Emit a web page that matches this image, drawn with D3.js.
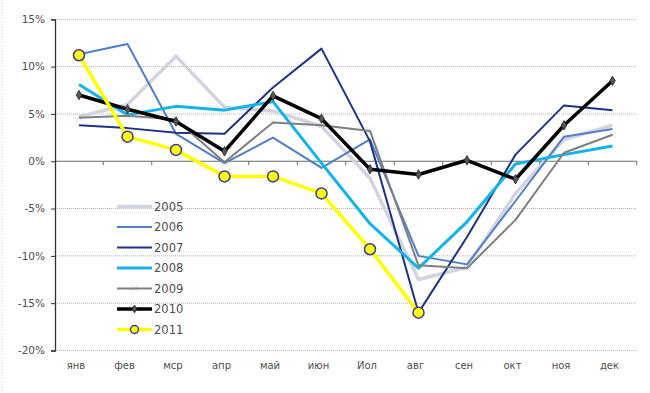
<!DOCTYPE html>
<html>
<head>
<meta charset="utf-8">
<script src="https://cdn.jsdelivr.net/npm/d3@7"></script>
<style>
body { margin: 0; background: #fff; }
text { font-family: "DejaVu Sans", sans-serif; fill: #4d4d4d; }
</style>
</head>
<body>
<div id="chart"></div>
<script>
// data
var months = ["янв", "фев", "мср", "апр", "май", "июн", "Иол", "авг", "сен", "окт", "ноя", "дек"];
var yTicks = [15, 10, 5, 0, -5, -10, -15, -20];
var years = ["2005", "2006", "2007", "2008", "2009", "2010", "2011"];
var v2005 = [4.7, 6.0, 11.1, 5.7, 5.3, 3.7, -1.8, -12.5, -11.2, -3.4, 2.3, 3.8];
var v2006 = [11.3, 12.4, 2.9, -0.2, 2.5, -0.7, 2.3, -10.0, -10.9, -4.2, 2.6, 3.4];
var v2007 = [3.8, 3.5, 3.0, 2.9, 7.8, 11.9, 2.1, -16.0, -8.0, 0.7, 5.9, 5.4];
var v2008 = [8.1, 4.9, 5.8, 5.4, 6.3, -0.2, -6.6, -11.3, -6.4, -0.3, 0.7, 1.6];
var v2009 = [4.6, 4.8, 4.4, -0.1, 4.1, 3.8, 3.2, -11.0, -11.3, -6.2, 0.9, 2.8];
var v2010 = [7.0, 5.5, 4.2, 1.05, 6.9, 4.5, -0.85, -1.4, 0.1, -1.9, 3.8, 8.5];
var v2011 = [11.2, 2.6, 1.2, -1.6, -1.6, -3.4, -9.3, -16.0];

var series = [
    {name: "2005", values: v2005, color: "#d2d4e2", width: 3.5, marker: "none"},
    {name: "2006", values: v2006, color: "#4f7fc4", width: 2, marker: "none"},
    {name: "2007", values: v2007, color: "#1f3380", width: 2, marker: "none"},
    {name: "2008", values: v2008, color: "#14b4ea", width: 3, marker: "none"},
    {name: "2009", values: v2009, color: "#7f7f7f", width: 2, marker: "x"},
    {name: "2010", values: v2010, color: "#000000", width: 3.5, marker: "diamond"},
    {name: "2011", values: v2011, color: "#ffff00", width: 3.5, marker: "circle"}
];

var svg = d3.select("#chart").append("svg").attr("width", 650).attr("height", 393);

var x = d3.scaleBand().domain(months).range([54.75, 636.75]).paddingInner(0).paddingOuter(0);
var y = d3.scaleLinear().domain([-20, 15]).range([350.5, 19.3]);

// frame leftover on the left edge
svg.append("line").attr("x1", 2).attr("x2", 2).attr("y1", 0).attr("y2", 393)
    .attr("stroke", "#cfcfcf").attr("stroke-dasharray", "1,2");

// gridlines
svg.append("g").selectAll("line").data(yTicks.filter(function(d){ return d != 0; }))
    .enter().append("line")
    .attr("x1", 55).attr("x2", 637)
    .attr("y1", function(d){ return y(d); }).attr("y2", function(d){ return y(d); })
    .attr("stroke", "#b3b3b3").attr("stroke-dasharray", "1,1");

// zero axis with month ticks
var xAxis = svg.append("g").attr("transform", "translate(0," + y(0) + ")");
xAxis.append("line").attr("x1", 55).attr("x2", 637).attr("stroke", "#6a6a6a").attr("stroke-width", 1.2);
xAxis.selectAll(".tk").data(months).enter().append("line").attr("class", "tk")
    .attr("x1", function(d){ return x(d) + x.bandwidth(); })
    .attr("x2", function(d){ return x(d) + x.bandwidth(); })
    .attr("y1", 0).attr("y2", 4).attr("stroke", "#6a6a6a");

svg.append("g").selectAll("text").data(months).enter().append("text")
    .attr("x", function(d){ return x(d) + x.bandwidth() / 2 - 3; })
    .attr("y", 369)
    .attr("text-anchor", "middle").attr("font-size", 10)
    .text(function(d){ return d; });

// y axis
var yAxis = svg.append("g").attr("transform", "translate(55,0)")
    .call(d3.axisLeft(y).tickValues(yTicks).tickSize(4).tickPadding(6)
        .tickFormat(function(d){ return d + "%"; }));
yAxis.select(".domain").attr("stroke", "#333").attr("stroke-width", 1.3);
yAxis.selectAll(".tick line").attr("stroke", "#333");
yAxis.selectAll(".tick text").attr("font-size", 10.5).attr("font-family", "DejaVu Sans").attr("fill", "#4d4d4d");

// lines
var line = d3.line()
    .x(function(d, i){ return x(months[i]) + x.bandwidth() / 2; })
    .y(function(d){ return y(d); });

function drawMarker(g, kind, cx, cy, small) {
    if (kind == "circle") {
        g.append("circle").attr("cx", cx).attr("cy", cy).attr("r", small ? 4 : 5.5)
            .attr("fill", "#ffff00").attr("stroke", "#3a3a96").attr("stroke-width", 1.5);
    } else if (kind == "diamond") {
        g.append("path").attr("d", d3.symbol().type(d3.symbolDiamond).size(small ? 18 : 26)())
            .attr("transform", "translate(" + cx + "," + cy + ")")
            .attr("fill", "#555").attr("stroke", "#222").attr("stroke-width", 0.8);
    } else if (kind == "x") {
        g.append("path").attr("d", d3.symbol().type(d3.symbolTimes).size(small ? 30 : 40)())
            .attr("transform", "translate(" + cx + "," + cy + ")")
            .attr("fill", "#8a8a8a").attr("stroke", "#8a8a8a").attr("stroke-width", 0.3);
    }
}

var plot = svg.append("g");
series.forEach(function(s){
    plot.append("path").datum(s.values)
        .attr("d", line)
        .attr("fill", "none")
        .attr("stroke", s.color)
        .attr("stroke-width", s.width)
        .attr("stroke-linejoin", "round");
    s.values.forEach(function(v, i){
        drawMarker(plot, s.marker, x(months[i]) + x.bandwidth() / 2, y(v), false);
    });
});

// legend
var legend = svg.append("g");
series.forEach(function(s, i){
    var ly = 206.5 + i * 20.5;
    legend.append("line").attr("x1", 117).attr("x2", 152).attr("y1", ly).attr("y2", ly)
        .attr("stroke", s.color).attr("stroke-width", s.width);
    drawMarker(legend, s.marker, 134.5, ly, true);
    legend.append("text").attr("x", 154).attr("y", ly + 4).attr("font-size", 11.5)
        .text(s.name);
});
</script>
</body>
</html>
